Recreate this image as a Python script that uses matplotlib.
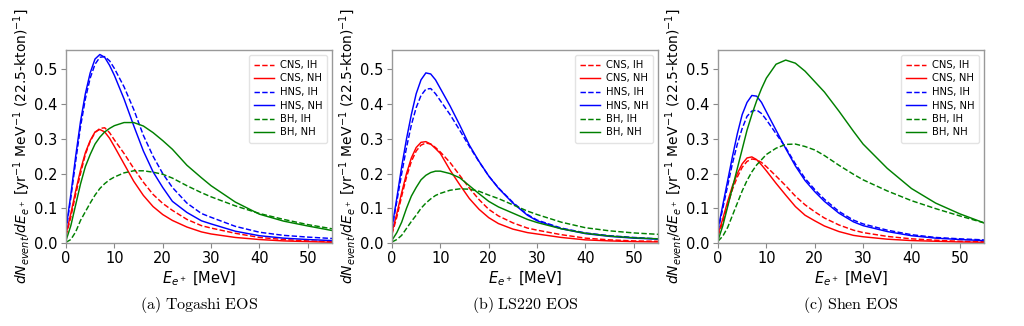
import matplotlib
matplotlib.use("Agg")
import matplotlib.pyplot as plt

# Common energy grid [MeV]
E = [0, 1, 2, 3, 4, 5, 6, 7, 8, 9, 10, 12, 14, 16, 18, 20, 22, 25, 28, 30, 35, 40, 45, 50, 55]

# (a) Togashi EOS
tog_cns_ih = [0.020, 0.075, 0.140, 0.200, 0.255, 0.293, 0.318, 0.330, 0.332, 0.318, 0.297, 0.258, 0.215, 0.175, 0.140, 0.114, 0.094, 0.068, 0.050, 0.043, 0.028, 0.016, 0.010, 0.006, 0.004]
tog_cns_nh = [0.025, 0.085, 0.150, 0.210, 0.260, 0.295, 0.320, 0.327, 0.320, 0.302, 0.278, 0.228, 0.178, 0.137, 0.105, 0.082, 0.065, 0.046, 0.032, 0.026, 0.016, 0.010, 0.006, 0.004, 0.002]
tog_hns_ih = [0.035, 0.130, 0.235, 0.335, 0.415, 0.475, 0.515, 0.535, 0.537, 0.525, 0.503, 0.450, 0.385, 0.310, 0.250, 0.200, 0.160, 0.115, 0.085, 0.074, 0.048, 0.031, 0.022, 0.017, 0.013]
tog_hns_nh = [0.040, 0.140, 0.250, 0.350, 0.430, 0.490, 0.530, 0.543, 0.535, 0.512, 0.483, 0.415, 0.338, 0.265, 0.205, 0.160, 0.120, 0.088, 0.064, 0.055, 0.034, 0.021, 0.014, 0.010, 0.007]
tog_bh_ih = [0.002, 0.010, 0.032, 0.065, 0.090, 0.115, 0.138, 0.157, 0.171, 0.182, 0.190, 0.202, 0.208, 0.208, 0.204, 0.198, 0.187, 0.165, 0.145, 0.133, 0.107, 0.085, 0.068, 0.053, 0.041]
tog_bh_nh = [0.007, 0.050, 0.110, 0.170, 0.220, 0.255, 0.285, 0.305, 0.320, 0.330, 0.338, 0.347, 0.347, 0.337, 0.318, 0.295, 0.270, 0.224, 0.188, 0.165, 0.118, 0.083, 0.063, 0.049, 0.036]

# (b) LS220 EOS
ls_cns_ih = [0.025, 0.075, 0.135, 0.190, 0.235, 0.265, 0.282, 0.288, 0.285, 0.275, 0.262, 0.232, 0.195, 0.158, 0.125, 0.097, 0.078, 0.058, 0.043, 0.037, 0.024, 0.014, 0.009, 0.006, 0.005]
ls_cns_nh = [0.030, 0.085, 0.145, 0.200, 0.245, 0.275, 0.290, 0.292, 0.285, 0.272, 0.258, 0.210, 0.168, 0.128, 0.097, 0.073, 0.056, 0.040, 0.030, 0.026, 0.016, 0.009, 0.006, 0.004, 0.003]
ls_hns_ih = [0.040, 0.120, 0.200, 0.275, 0.340, 0.390, 0.425, 0.443, 0.445, 0.430, 0.410, 0.370, 0.325, 0.278, 0.234, 0.193, 0.159, 0.117, 0.082, 0.066, 0.043, 0.029, 0.021, 0.016, 0.012]
ls_hns_nh = [0.045, 0.130, 0.220, 0.300, 0.370, 0.430, 0.470, 0.490, 0.487, 0.470, 0.445, 0.395, 0.340, 0.282, 0.235, 0.193, 0.158, 0.115, 0.080, 0.064, 0.041, 0.027, 0.019, 0.014, 0.011]
ls_bh_ih = [0.003, 0.010, 0.022, 0.042, 0.062, 0.080, 0.100, 0.115, 0.127, 0.137, 0.143, 0.152, 0.156, 0.155, 0.149, 0.138, 0.128, 0.110, 0.092, 0.082, 0.060, 0.044, 0.035, 0.029, 0.025]
ls_bh_nh = [0.008, 0.030, 0.060, 0.100, 0.135, 0.160, 0.182, 0.195, 0.203, 0.207, 0.207, 0.200, 0.188, 0.165, 0.142, 0.120, 0.104, 0.086, 0.068, 0.059, 0.041, 0.028, 0.020, 0.015, 0.012]

# (c) Shen EOS
sh_cns_ih = [0.020, 0.060, 0.110, 0.155, 0.190, 0.218, 0.235, 0.242, 0.240, 0.232, 0.220, 0.193, 0.165, 0.135, 0.110, 0.090, 0.072, 0.052, 0.037, 0.030, 0.019, 0.012, 0.008, 0.005, 0.004]
sh_cns_nh = [0.025, 0.070, 0.120, 0.165, 0.200, 0.228, 0.245, 0.248, 0.240, 0.225, 0.208, 0.172, 0.138, 0.105, 0.080, 0.064, 0.049, 0.033, 0.022, 0.018, 0.011, 0.007, 0.005, 0.003, 0.002]
sh_hns_ih = [0.035, 0.100, 0.165, 0.230, 0.285, 0.330, 0.365, 0.380, 0.383, 0.373, 0.355, 0.315, 0.275, 0.228, 0.186, 0.154, 0.126, 0.091, 0.066, 0.055, 0.037, 0.024, 0.016, 0.012, 0.009]
sh_hns_nh = [0.040, 0.110, 0.180, 0.250, 0.315, 0.370, 0.405, 0.425, 0.423, 0.405, 0.378, 0.325, 0.272, 0.222, 0.180, 0.148, 0.120, 0.086, 0.061, 0.050, 0.033, 0.021, 0.014, 0.010, 0.007]
sh_bh_ih = [0.005, 0.020, 0.045, 0.080, 0.115, 0.150, 0.180, 0.205, 0.225, 0.240, 0.255, 0.273, 0.284, 0.285, 0.278, 0.268, 0.252, 0.224, 0.198, 0.182, 0.150, 0.122, 0.099, 0.078, 0.058]
sh_bh_nh = [0.007, 0.050, 0.105, 0.160, 0.215, 0.270, 0.325, 0.370, 0.410, 0.445, 0.475, 0.515, 0.527, 0.518, 0.495, 0.465, 0.435, 0.380, 0.322, 0.285, 0.215, 0.157, 0.115, 0.084, 0.058]

labels = ["CNS, IH", "CNS, NH", "HNS, IH", "HNS, NH", "BH, IH", "BH, NH"]
colors = ["red", "red", "blue", "blue", "green", "green"]
styles = ["--", "-", "--", "-", "--", "-"]

panels = [
    ("(a)\\ Togashi\\ EOS", [tog_cns_ih, tog_cns_nh, tog_hns_ih, tog_hns_nh, tog_bh_ih, tog_bh_nh]),
    ("(b)\\ LS220\\ EOS", [ls_cns_ih, ls_cns_nh, ls_hns_ih, ls_hns_nh, ls_bh_ih, ls_bh_nh]),
    ("(c)\\ Shen\\ EOS", [sh_cns_ih, sh_cns_nh, sh_hns_ih, sh_hns_nh, sh_bh_ih, sh_bh_nh]),
]

fig = plt.figure(figsize=(10.24, 3.26), dpi=100)
lefts = [66 / 1024, 392 / 1024, 718 / 1024]
width = 266 / 1024
bottom = 1 - 243 / 326
height = 193 / 326

for left, (caption, series) in zip(lefts, panels):
    ax = fig.add_axes([left, bottom, width, height])
    for y, lab, c, ls in zip(series, labels, colors, styles):
        ax.plot(E, y, ls, color=c, lw=1.05, label=lab)
    ax.set_xlim(0, 55)
    ax.set_ylim(0, 0.556)
    ax.set_xticks([0, 10, 20, 30, 40, 50])
    ax.set_yticks([0.0, 0.1, 0.2, 0.3, 0.4, 0.5])
    ax.tick_params(labelsize=10.5, length=3.5, width=0.8, color="#888888", pad=2.5)
    for s in ax.spines.values():
        s.set_color("#999999")
        s.set_linewidth(1.0)
    ax.set_xlabel(r"$E_{e^+}$ [MeV]", fontsize=10.5, labelpad=2)
    ax.set_ylabel(r"$dN_{event}/dE_{e^+}$ [yr$^{-1}$ MeV$^{-1}$ (22.5-kton)$^{-1}$]",
                  fontsize=10, labelpad=1)
    ax.legend(loc="upper right", fontsize=7.2, handlelength=2.0, labelspacing=0.35,
              borderpad=0.5, handletextpad=0.6, framealpha=0.8, edgecolor="#dddddd")
    fig.text(left + width / 2, 1 - 305 / 326, "$\\mathrm{" + caption + "}$",
             ha="center", va="center", fontsize=11.5, math_fontfamily="cm")

fig.savefig("out.png", dpi=100)
